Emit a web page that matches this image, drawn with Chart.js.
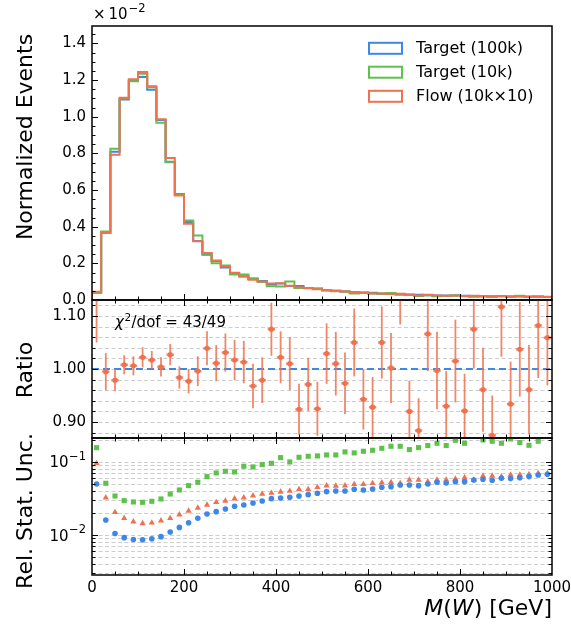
<!DOCTYPE html>
<html><head><meta charset="utf-8">
<script src="https://cdn.jsdelivr.net/npm/chart.js@4.4.1/dist/chart.umd.min.js"></script>
<style>
html,body{margin:0;padding:0;background:#fff;}
#wrap{position:relative;width:571px;height:627px;background:#fff;}
canvas{position:absolute;left:0;top:0;}
</style></head><body>
<div id="wrap">
<canvas id="cTop" width="571" height="627"></canvas>
<canvas id="cRatio" width="571" height="627"></canvas>
<canvas id="cUnc" width="571" height="627"></canvas>
</div>
<script>
// ---------- data ----------
const binEdges = Array.from({length: 51}, (_, i) => i * 20);           // GeV
const binCenters = binEdges.slice(0, 50).map(e => e + 10);

// normalized events, units of 1e-2
const targetHigh = [0.039,0.368,0.809,1.094,1.198,1.217,1.147,0.982,0.755,0.579,
  0.426,0.322,0.247,0.213,0.178,0.146,0.128,0.114,0.103,0.084,
  0.090,0.077,0.076,0.066,0.063,0.053,0.050,0.047,0.042,0.041,
  0.039,0.034,0.033,0.030,0.030,0.028,0.026,0.025,0.025,0.024,
  0.023,0.021,0.021,0.021,0.020,0.019,0.019,0.019,0.018,0.017];
const targetLow = [0.042,0.374,0.825,1.100,1.194,1.234,1.161,0.967,0.752,0.576,
  0.434,0.352,0.252,0.201,0.188,0.139,0.139,0.119,0.098,0.075,
  0.074,0.101,0.066,0.066,0.061,0.052,0.048,0.046,0.035,0.040,
  0.036,0.036,0.038,0.030,0.027,0.022,0.026,0.020,0.022,0.025,
  0.022,0.018,0.020,0.017,0.021,0.019,0.023,0.017,0.019,0.016];
const flow = [0.045,0.366,0.792,1.103,1.205,1.244,1.166,0.986,0.775,0.570,
  0.416,0.321,0.257,0.215,0.184,0.148,0.130,0.110,0.101,0.090,
  0.092,0.078,0.070,0.064,0.058,0.055,0.050,0.046,0.044,0.039,
  0.036,0.036,0.033,0.034,0.028,0.025,0.028,0.025,0.023,0.024,
  0.021,0.023,0.020,0.018,0.022,0.018,0.020,0.018,0.019,0.018];

// ratio Flow / Target(100k) and its error
const ratio = [1.160,0.995,0.979,1.008,1.006,1.022,1.017,1.004,1.027,0.984,
  0.977,0.996,1.039,1.011,1.031,1.017,1.013,0.968,0.979,1.075,
  1.022,1.010,0.924,0.971,0.925,1.029,1.010,0.973,1.050,0.943,
  0.928,1.050,1.002,1.150,0.920,0.884,1.066,0.997,0.930,1.015,
  0.921,1.075,0.961,0.875,1.117,0.934,1.037,0.961,1.082,1.059];
const ratioErr = [0.110,0.035,0.021,0.018,0.018,0.019,0.017,0.018,0.020,0.021,
  0.023,0.028,0.032,0.034,0.036,0.038,0.040,0.042,0.043,0.050,
  0.049,0.050,0.048,0.050,0.051,0.057,0.060,0.058,0.064,0.057,
  0.057,0.068,0.066,0.066,0.058,0.061,0.070,0.073,0.066,0.078,
  0.070,0.074,0.079,0.075,0.094,0.080,0.089,0.084,0.099,0.090];

// relative statistical uncertainty
const uncHigh = [0.0496,0.0160,0.0105,0.0092,0.0087,0.0086,0.0089,0.0095,0.0110,0.0127,
  0.0147,0.0169,0.0193,0.0208,0.0226,0.0246,0.0257,0.0273,0.0291,0.0313,
  0.0320,0.0327,0.0340,0.0355,0.0370,0.0390,0.0398,0.0398,0.0420,0.0411,
  0.0424,0.0447,0.0456,0.0481,0.0481,0.0471,0.0496,0.0523,0.0512,0.0534,
  0.0534,0.0563,0.0575,0.0557,0.0593,0.0587,0.0605,0.0625,0.0659,0.0673];
const uncLow = [0.155,0.0507,0.0340,0.0294,0.0282,0.0279,0.0288,0.0310,0.0362,0.0411,
  0.0471,0.0523,0.0625,0.0701,0.0739,0.0724,0.0865,0.0847,0.0911,0.0950,
  0.1135,0.0990,0.1147,0.1184,0.1196,0.1234,0.1234,0.1356,0.1315,0.1385,
  0.1429,0.1520,0.1620,0.1620,0.1460,0.1554,0.1655,0.1780,0.1655,0.1957,
  0.1780,0.2300,0.1977,0.1897,0.1780,0.2040,0.1820,0.1670,0.1897,0.2300];
const uncFlow = [0.0950,0.0323,0.0204,0.0169,0.0152,0.0144,0.0147,0.0157,0.0169,0.0189,
  0.0213,0.0234,0.0257,0.0279,0.0291,0.0313,0.0323,0.0344,0.0362,0.0374,
  0.0386,0.0398,0.0420,0.0420,0.0447,0.0471,0.0466,0.0471,0.0491,0.0491,
  0.0507,0.0518,0.0523,0.0507,0.0563,0.0563,0.0534,0.0563,0.0563,0.0581,
  0.0605,0.0563,0.0638,0.0638,0.0625,0.0659,0.0659,0.0673,0.0694,0.0694];

// tick labels
const xTickLabels = [0, 200, 400, 600, 800, 1000];
const histTickLabels = [0.0, 0.2, 0.4, 0.6, 0.8, 1.0, 1.2, 1.4];
const ratioTickLabels = [0.90, 1.00, 1.10];
const uncTickLabels = [0.01, 0.1];
const seriesLabels = ['Target (100k)', 'Target (10k)', 'Flow (10k\u00d710)'];
const chiText = '/dof = 43/49';

// ---------- styling / layout ----------
const FONT = '"DejaVu Sans", sans-serif';
Chart.defaults.font.family = FONT;
const BLUE = '#3d87e8', GREEN = '#5cc24a', RED = '#f0714f', RED_BAR = 'rgba(240,113,79,0.85)';
const W = 571, H = 627, LEFT = 92, RIGHT = 552;
const P_TOP = [26, 300], P_RATIO = [300, 438], P_UNC = [438, 575];

const xMinor = []; for (let v = 0; v <= 1000; v += 50) xMinor.push(v);
const histMinor = []; for (let i = 0; i <= 29; i++) histMinor.push(+(i * 0.05).toFixed(2));
const ratioMinor = []; for (let i = 44; i <= 56; i++) ratioMinor.push(+(i * 0.02).toFixed(2));
const logMinor = [];
[0.001, 0.01, 0.1].forEach(d => { for (let m = 2; m <= 9; m++) logMinor.push(+(m * d).toPrecision(2)); });

function line(ctx, x1, y1, x2, y2) { ctx.beginPath(); ctx.moveTo(x1, y1); ctx.lineTo(x2, y2); ctx.stroke(); }

function stepOutline(vals) {
  const pts = [{x: binEdges[0], y: 0}];
  vals.forEach((v, i) => { pts.push({x: binEdges[i], y: v}); pts.push({x: binEdges[i + 1], y: v}); });
  pts.push({x: binEdges[binEdges.length - 1], y: 0});
  return pts;
}

function decor(cfg) {
  return {
    id: 'decor',
    beforeDatasetsDraw(chart) {
      if (!cfg.grid) return;
      const {ctx, chartArea: a} = chart, y = chart.scales.y;
      ctx.save();
      ctx.strokeStyle = '#cdcdcd'; ctx.lineWidth = 1; ctx.setLineDash([4, 2.5]);
      cfg.grid.forEach(v => {
        const py = Math.round(y.getPixelForValue(v)) + 0.5;
        if (py <= a.top + 1 || py >= a.bottom - 1) return;
        line(ctx, a.left, py, a.right, py);
      });
      ctx.restore();
    },
    afterDraw(chart) {
      const {ctx, chartArea: a} = chart, x = chart.scales.x, y = chart.scales.y;
      ctx.save();
      ctx.strokeStyle = '#000'; ctx.lineWidth = 1;
      const MJ = 6, MN = 3.5;
      xMinor.forEach(v => {
        const major = xTickLabels.includes(v);
        const L = major ? MJ : MN;
        const px = Math.round(x.getPixelForValue(v)) + 0.5;
        if (px < a.left + 1 || px > a.right - 1) return;
        line(ctx, px, a.bottom, px, a.bottom - L);
        if (cfg.top) line(ctx, px, a.top, px, a.top + L);
      });
      const drawY = (v, L) => {
        const py = Math.round(y.getPixelForValue(v)) + 0.5;
        if (py < a.top + 1 || py > a.bottom - 1) return;
        line(ctx, a.left, py, a.left + L, py);
        if (cfg.right) line(ctx, a.right, py, a.right - L, py);
      };
      cfg.yMinor.forEach(v => { if (!cfg.yMajor.includes(v)) drawY(v, MN); });
      cfg.yMajor.forEach(v => drawY(v, MJ));
      ctx.lineWidth = 1.5;
      ctx.strokeRect(a.left, a.top, a.right - a.left, a.bottom - a.top);
      ctx.restore();
      if (cfg.extra) cfg.extra(chart);
    }
  };
}

function hiddenX() { return {type: 'linear', min: 0, max: 1000, display: false}; }
function fixY(s) { s.width = LEFT; s.paddingTop = 0; s.paddingBottom = 0; }
const tickFont = {family: FONT, size: 15};

function baseOpts(panel, bottomPad, scales) {
  return {
    responsive: false, animation: false, devicePixelRatio: 1, events: [],
    layout: {padding: {left: 0, right: W - RIGHT, top: panel[0], bottom: bottomPad}},
    plugins: {legend: {display: false}, tooltip: {enabled: false}},
    scales
  };
}

// ---------- top panel: histograms ----------
new Chart(document.getElementById('cTop'), {
  type: 'line',
  data: {datasets: [
    {label: seriesLabels[0], data: stepOutline(targetHigh), borderColor: BLUE, borderWidth: 2, pointRadius: 0, order: 3, borderJoinStyle: 'miter'},
    {label: seriesLabels[1], data: stepOutline(targetLow), borderColor: GREEN, borderWidth: 2, pointRadius: 0, order: 2, borderJoinStyle: 'miter'},
    {label: seriesLabels[2], data: stepOutline(flow), borderColor: RED, borderWidth: 2, pointRadius: 0, order: 1, borderJoinStyle: 'miter'}
  ]},
  options: baseOpts(P_TOP, H - P_TOP[1], {
    x: hiddenX(),
    y: {type: 'linear', min: 0, max: 1.495, afterFit: fixY,
        afterBuildTicks: s => { s.ticks = histTickLabels.map(v => ({value: v})); },
        ticks: {font: tickFont, color: '#000', padding: 6, callback: v => Number(v).toFixed(1)},
        grid: {display: false, drawTicks: false}, border: {display: false}}
  }),
  plugins: [decor({yMajor: histTickLabels, yMinor: histMinor, right: false, top: false,
    extra(chart) {
      const ctx = chart.ctx;
      ctx.save();
      ctx.fillStyle = '#000'; ctx.textBaseline = 'alphabetic';
      ctx.font = '15px ' + FONT;
      let xx = 93;
      ctx.fillText('\u00d7', xx, 19); xx += ctx.measureText('\u00d7').width + 3;
      ctx.fillText('10', xx, 19); xx += ctx.measureText('10').width + 1;
      ctx.font = '11.5px ' + FONT;
      ctx.fillText('\u22122', xx, 12);
      // legend
      const colors = [BLUE, GREEN, RED];
      const rows = [48.3, 72.2, 96.3];
      chart.data.datasets.forEach((ds, i) => {
        ctx.lineWidth = 2; ctx.strokeStyle = colors[i];
        ctx.strokeRect(369, rows[i] - 5.5, 33, 11);
        ctx.font = '16px ' + FONT; ctx.fillStyle = '#000'; ctx.textBaseline = 'middle';
        ctx.fillText(ds.label, 416, rows[i] + 0.5);
      });
      ctx.restore();
    }})]
});

// ---------- ratio panel ----------
new Chart(document.getElementById('cRatio'), {
  type: 'scatter',
  data: {datasets: [
    {data: [{x: 0, y: 1}, {x: 1000, y: 1}], type: 'line', showLine: true, borderColor: BLUE, borderWidth: 2,
     borderDash: [7, 4], pointRadius: 0, order: 2},
    {data: binCenters.map((c, i) => ({x: c, y: ratio[i]})), pointStyle: 'circle', pointRadius: 2.6,
     backgroundColor: RED, borderWidth: 0, order: 1, clip: 0}
  ]},
  options: baseOpts(P_RATIO, H - P_RATIO[1], {
    x: hiddenX(),
    y: {type: 'linear', min: 0.87, max: 1.13, afterFit: fixY,
        afterBuildTicks: s => { s.ticks = ratioTickLabels.map(v => ({value: v})); },
        ticks: {font: tickFont, color: '#000', padding: 6, callback: v => Number(v).toFixed(2)},
        grid: {display: false, drawTicks: false}, border: {display: false}}
  }),
  plugins: [{
    id: 'ratioBars',
    afterDatasetsDraw(chart) {
      const {ctx, chartArea: a, scales: {x, y}} = chart;
      ctx.save();
      ctx.beginPath(); ctx.rect(a.left, a.top, a.right - a.left, a.bottom - a.top); ctx.clip();
      ctx.strokeStyle = RED_BAR;
      const hw = (x.getPixelForValue(binEdges[1]) - x.getPixelForValue(binEdges[0])) * 0.4;
      ratio.forEach((r, i) => {
        const px = x.getPixelForValue(binCenters[i]);
        ctx.lineWidth = 1.8;
        line(ctx, px, y.getPixelForValue(r - ratioErr[i]), px, y.getPixelForValue(r + ratioErr[i]));
        ctx.lineWidth = 2.4;
        const py = y.getPixelForValue(r);
        line(ctx, px - hw, py, px + hw, py);
      });
      ctx.restore();
    }
  }, decor({grid: ratioMinor, yMajor: ratioTickLabels, yMinor: ratioMinor, right: true, top: true,
    extra(chart) {
      const ctx = chart.ctx;
      ctx.save(); ctx.fillStyle = '#000'; ctx.textBaseline = 'alphabetic';
      let xx = 115; const base = 327;
      ctx.font = 'italic 15px ' + FONT; ctx.fillText('\u03c7', xx, base); xx += ctx.measureText('\u03c7').width + 0.5;
      ctx.font = '10.5px ' + FONT; ctx.fillText('2', xx, base - 6.5); xx += ctx.measureText('2').width + 0.5;
      ctx.font = '15px ' + FONT; ctx.fillText(chiText, xx, base);
      ctx.restore();
    }})]
});

// ---------- relative stat. uncertainty panel ----------
new Chart(document.getElementById('cUnc'), {
  type: 'scatter',
  data: {datasets: [
    {data: binCenters.map((c, i) => ({x: c, y: uncLow[i]})), pointStyle: 'rect', pointRadius: 3.6,
     backgroundColor: GREEN, borderWidth: 0, order: 3, clip: 0},
    {data: binCenters.map((c, i) => ({x: c, y: uncFlow[i]})), pointStyle: 'triangle', pointRadius: 3.6,
     backgroundColor: RED, borderWidth: 0, order: 2, clip: 0},
    {data: binCenters.map((c, i) => ({x: c, y: uncHigh[i]})), pointStyle: 'circle', pointRadius: 2.8,
     backgroundColor: BLUE, borderWidth: 0, order: 1, clip: 0}
  ]},
  options: baseOpts(P_UNC, 0, {
    x: {type: 'linear', min: 0, max: 1000,
        afterFit: s => { s.height = H - P_UNC[1]; s.paddingLeft = 0; s.paddingRight = 0; },
        afterBuildTicks: s => { s.ticks = xTickLabels.map(v => ({value: v})); },
        ticks: {font: tickFont, color: '#000', padding: 4, maxRotation: 0, autoSkip: false, callback: v => String(v)},
        grid: {display: false, drawTicks: false}, border: {display: false}},
    y: {type: 'logarithmic', min: 0.00285, max: 0.21, afterFit: fixY,
        ticks: {display: false}, grid: {display: false, drawTicks: false}, border: {display: false}}
  }),
  plugins: [decor({grid: logMinor.concat(uncTickLabels), yMajor: uncTickLabels, yMinor: logMinor, right: true, top: true,
    extra(chart) {
      const ctx = chart.ctx, y = chart.scales.y;
      ctx.save(); ctx.fillStyle = '#000'; ctx.textBaseline = 'alphabetic';
      // log tick labels 10^-1, 10^-2
      uncTickLabels.forEach(v => {
        const py = y.getPixelForValue(v);
        const exp = '\u2212' + Math.round(-Math.log10(v));
        ctx.font = '11.5px ' + FONT; const w2 = ctx.measureText(exp).width;
        ctx.font = '15px ' + FONT; const w1 = ctx.measureText('10').width;
        const xr = 86;
        ctx.fillText('10', xr - w2 - w1 - 0.5, py + 5.5);
        ctx.font = '11.5px ' + FONT; ctx.fillText(exp, xr - w2, py - 2);
      });
      // axis titles
      ctx.font = '22px ' + FONT; ctx.textAlign = 'center'; ctx.textBaseline = 'middle';
      [['Normalized Events', 137], ['Ratio', 370], ['Rel. Stat. Unc.', 511]].forEach(([t, cy]) => {
        ctx.save(); ctx.translate(26, cy); ctx.rotate(-Math.PI / 2); ctx.fillText(t, 0, 0); ctx.restore();
      });
      // x title with italic M and W
      ctx.textAlign = 'left'; ctx.textBaseline = 'alphabetic';
      const parts = [['M', true], ['(', false], ['W', true], [') [GeV]', false]];
      const fontOf = it => (it ? 'italic ' : '') + '22px ' + FONT;
      let total = 0; parts.forEach(([t, it]) => { ctx.font = fontOf(it); total += ctx.measureText(t).width; });
      let xx = RIGHT - total;
      parts.forEach(([t, it]) => { ctx.font = fontOf(it); ctx.fillText(t, xx, 615); xx += ctx.measureText(t).width; });
      ctx.restore();
    }})]
});
</script>
</body></html>
